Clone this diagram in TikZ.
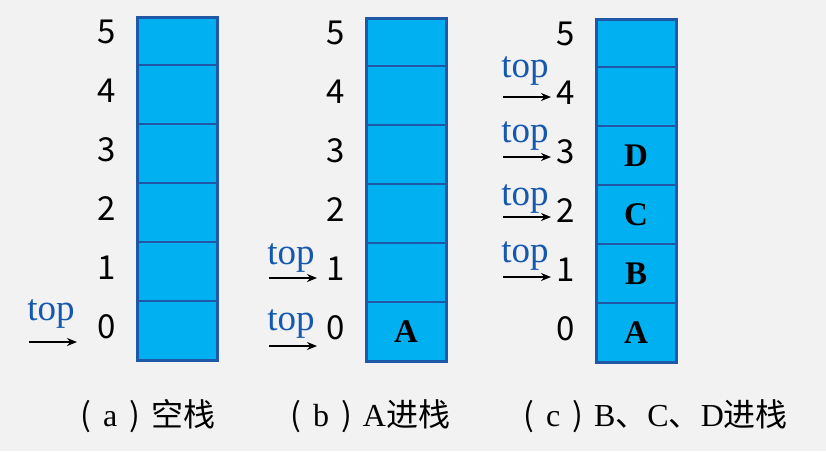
\documentclass[tikz,border=0pt]{standalone}
\usepackage{fontspec}
\setmainfont{Liberation Serif}
\newfontfamily\cjk{Noto Sans CJK SC}
\usetikzlibrary{arrows.meta,positioning}
\definecolor{bggray}{HTML}{F2F2F2}
\definecolor{cellblue}{HTML}{00B0F0}
\definecolor{edgeblue}{HTML}{2058A8}
\definecolor{topblue}{HTML}{1558B0}

\begin{document}
\begin{tikzpicture}[x=1pt,y=-1pt,>={Stealth[length=10pt,width=8pt]},semithick]
  \tikzstyle{cell}=[draw=edgeblue,fill=cellblue,line width=2pt,outer sep=0pt,
    inner sep=0pt,minimum width=80pt,minimum height=59pt]
  \tikzstyle{topcell}=[cell,minimum height=48pt]
  \tikzstyle{letter}=[font=\rmfamily\fontsize{33}{33}\selectfont\bfseries]
  \tikzstyle{idx}=[font=\cjk\fontsize{33}{33}\selectfont,inner sep=0pt]
  \tikzstyle{ptr}=[text=topblue,font=\rmfamily\fontsize{37}{37}\selectfont,
    anchor=base west,inner sep=0pt]
  \tikzstyle{caption}=[font=\rmfamily\fontsize{32}{32}\selectfont,
    anchor=base west,inner sep=0pt]

  \fill[bggray] (0,0) rectangle (826,451);
  \useasboundingbox (0,0) rectangle (826,451);

  % the three stacks
  \foreach \s/\x/\y in {a/177/330.5, b/406/331.5, c/636/332.5} {
    \node[cell] (\s0) at (\x,\y) {};
    \foreach \i [count=\j from 0] in {1,...,4}
      \node[cell] (\s\i) [above=0pt of \s\j] {};
    \node[topcell] (\s5) [above=0pt of \s4] {};
    \draw[edgeblue,line width=3pt] (\s5.north west) rectangle (\s0.south east);
    \foreach \i in {0,...,5}
      \node[idx] (n\s\i) at (\x-70,\y-4-59*\i) {\i};
  }

  % stored elements
  \foreach \c/\t in {b0/A, c0/A, c1/B, c2/C, c3/D}
    \node[letter] (l\c) at (\c) {\t};

  % top pointers
  \foreach \n/\x/\yb/\ya in {a0/27/320/342, b1/267/264/278, b0/267/330/346,
      c4/501/77/97, c3/501/142/157, c2/501/205/217, c1/501/262/277} {
    \node[ptr] (t\n) at (\x,\yb) {top};
    \coordinate (s\n) at (\x+2,\ya);
    \coordinate (e\n) at (\x+50,\ya);
    \draw[->,line width=2pt] (s\n) -- (e\n);
  }

  \node[caption] (capa) at (80,426)
    {{\cjk (}\hspace{12pt}a\hspace{12pt}{\cjk )}\hspace{11pt}{\cjk 空栈}};
  \node[caption] (capb) at (290,426)
    {{\cjk (}\hspace{12pt}b\hspace{12pt}{\cjk )}\hspace{11pt}A{\cjk 进栈}};
  \node[caption] (capc) at (523,426)
    {{\cjk (}\hspace{12pt}c\hspace{12pt}{\cjk )}\hspace{11pt}B{\cjk 、}C{\cjk 、}D{\cjk 进栈}};
\end{tikzpicture}
\end{document}
